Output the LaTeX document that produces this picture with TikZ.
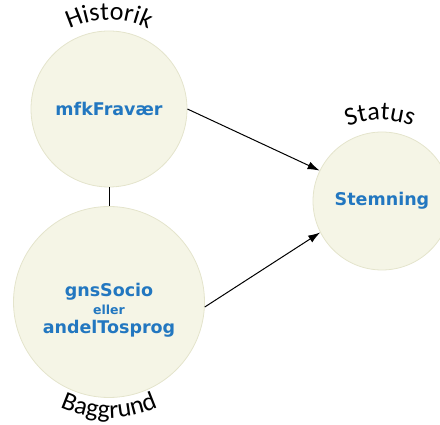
\documentclass[tikz,border=0pt]{standalone}
\usepackage{fontspec}
\setmainfont{Carlito}
\newfontfamily\verdfont{DejaVu Sans}
\usepackage{tikz}
\usetikzlibrary{arrows.meta}
\usetikzlibrary{decorations.text}

\definecolor{bubblefill}{HTML}{F5F5E6}
\definecolor{bubbleline}{HTML}{E4E4CC}
\definecolor{varblue}{HTML}{2277C0}
\newcommand{\arcfont}{\fontsize{26}{26}\selectfont}

\tikzset{
  bubble/.style={circle, fill=bubblefill, draw=bubbleline, line width=0.8pt, inner sep=0pt,
    text=varblue, align=center, font=\verdfont\bfseries\fontsize{17.5}{19}\selectfont},
  bubbletext/.style={text=varblue, align=center, inner sep=0pt,
    font=\verdfont\bfseries\fontsize{17.5}{19}\selectfont},
  conn/.style={line width=1pt, -{Latex[length=12pt,width=8pt]}},
  arclabel/.style={decorate, decoration={text along path, text align=center}}
}

\begin{document}
\begin{tikzpicture}[x=1pt, y=1pt]
\useasboundingbox (0,0) rectangle (440,425);

% Circles
\node[bubble, minimum size=156] (hist) at (109,316) {mfkFravær};
\node[bubble, minimum size=191] (bagg) at (109,123) {};
\node[bubbletext] (baggtxt) at ([yshift=-8pt]bagg.center) {gnsSocio\\[-1pt]
  {\fontsize{12.5}{13}\selectfont eller}\\[0pt] andelTosprog};
\node[bubble, minimum size=138] (stat) at (382,224) {Stemning};

% Connectors
\draw[line width=1pt] (hist) -- (bagg);
\draw[conn] (hist.east) -- (stat.154);
\draw[conn] (bagg.-3) -- (stat.207);

% Curved labels
\path[arclabel, decoration={text={|\arcfont|Historik}}]
  ([shift={(150:89)}]109,316) arc[start angle=150, end angle=30, radius=89];
\path[arclabel, decoration={text={|\arcfont|Status}}]
  ([shift={(130:81)}]380,224) arc[start angle=130, end angle=50, radius=81];
\path[arclabel, decoration={text={|\arcfont|Baggrund}}]
  ([shift={(220:116)}]109,123) arc[start angle=220, end angle=320, radius=116];
\end{tikzpicture}
\end{document}
